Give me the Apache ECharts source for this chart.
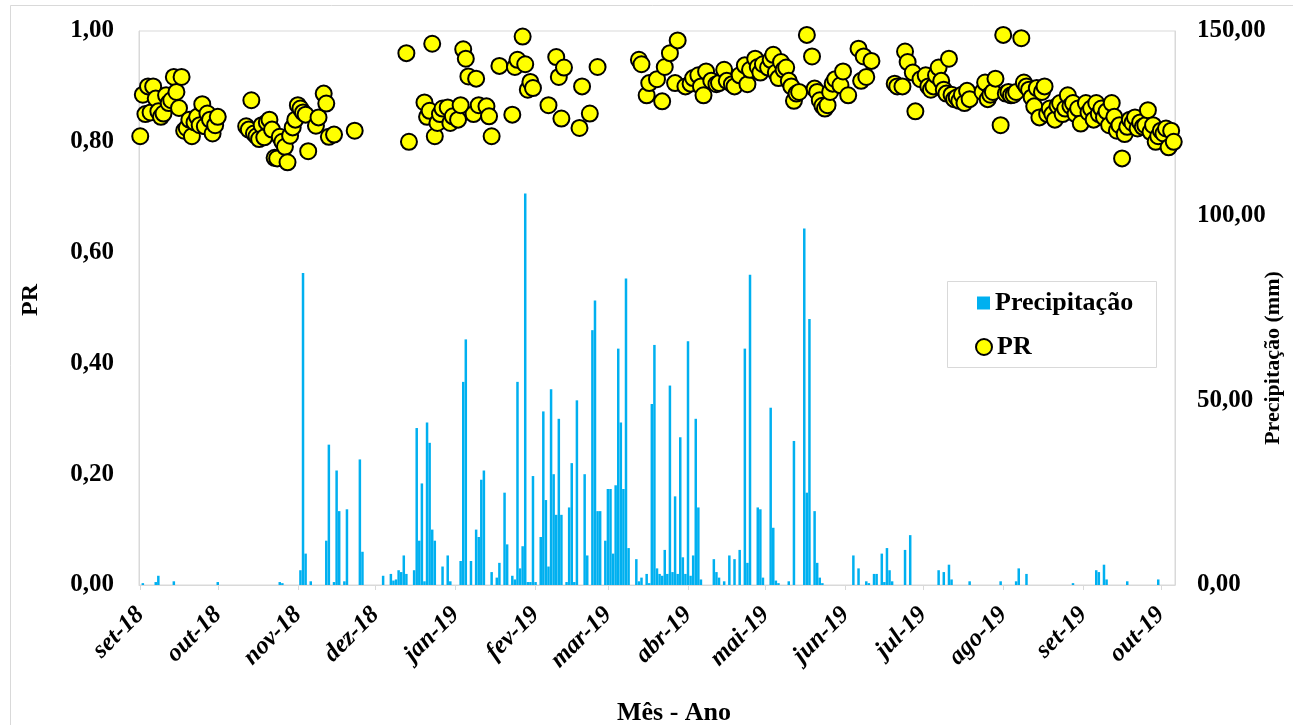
<!DOCTYPE html>
<html>
<head>
<meta charset="utf-8">
<script src="https://cdn.jsdelivr.net/npm/echarts@6/dist/echarts.min.js"></script>
<style>
html,body{margin:0;padding:0;background:#fff;}
#chart{width:1293px;height:725px;}
</style>
</head>
<body>
<div id="chart"></div>
<script>
// ---- axis labels ----
const monthNames = ['jan','fev','mar','abr','mai','jun','jul','ago','set','out','nov','dez'];

// ---- Precipitação (mm), daily, non-zero days only ----
const precipDates = [
'2018-09-02','2018-09-07','2018-09-08','2018-09-14','2018-10-01','2018-10-25','2018-10-26',
'2018-11-02','2018-11-03','2018-11-04','2018-11-06','2018-11-12','2018-11-13','2018-11-15','2018-11-16','2018-11-17','2018-11-19','2018-11-20','2018-11-25','2018-11-26',
'2018-12-04','2018-12-07','2018-12-08','2018-12-09','2018-12-10','2018-12-11','2018-12-12','2018-12-13','2018-12-16','2018-12-17','2018-12-18','2018-12-19','2018-12-20','2018-12-21','2018-12-22','2018-12-23','2018-12-24','2018-12-27','2018-12-29','2018-12-30',
'2019-01-03','2019-01-04','2019-01-05','2019-01-07','2019-01-09','2019-01-10','2019-01-11','2019-01-12','2019-01-15','2019-01-17','2019-01-18','2019-01-20','2019-01-21','2019-01-23','2019-01-24','2019-01-25','2019-01-26','2019-01-27','2019-01-28','2019-01-29','2019-01-30','2019-01-31',
'2019-02-01','2019-02-03','2019-02-04','2019-02-05','2019-02-06','2019-02-07','2019-02-08','2019-02-09','2019-02-10','2019-02-11','2019-02-13','2019-02-14','2019-02-15','2019-02-16','2019-02-17','2019-02-20','2019-02-21','2019-02-23','2019-02-24','2019-02-25','2019-02-26','2019-02-28',
'2019-03-01','2019-03-02','2019-03-03','2019-03-04','2019-03-05','2019-03-06','2019-03-07','2019-03-08','2019-03-09','2019-03-12','2019-03-13','2019-03-14','2019-03-16','2019-03-17','2019-03-18','2019-03-19','2019-03-20','2019-03-21','2019-03-22','2019-03-23','2019-03-24','2019-03-25','2019-03-26','2019-03-27','2019-03-28','2019-03-29','2019-03-30','2019-03-31',
'2019-04-01','2019-04-02','2019-04-03','2019-04-04','2019-04-05','2019-04-06','2019-04-11','2019-04-12','2019-04-13','2019-04-15','2019-04-17','2019-04-19','2019-04-21','2019-04-23','2019-04-24','2019-04-25','2019-04-28','2019-04-29','2019-04-30',
'2019-05-03','2019-05-04','2019-05-05','2019-05-06','2019-05-10','2019-05-12','2019-05-16','2019-05-17','2019-05-18','2019-05-20','2019-05-21','2019-05-22','2019-05-23',
'2019-06-04','2019-06-06','2019-06-09','2019-06-10','2019-06-12','2019-06-13','2019-06-15','2019-06-16','2019-06-17','2019-06-18','2019-06-19','2019-06-24','2019-06-26',
'2019-07-07','2019-07-09','2019-07-11','2019-07-12','2019-07-19','2019-07-31',
'2019-08-06','2019-08-07','2019-08-10','2019-08-28',
'2019-09-06','2019-09-07','2019-09-09','2019-09-10','2019-09-18','2019-09-30'
];
const precipMm = [
0.5,0.8,2.5,1.0,0.8,0.8,0.5,
4,84.5,8.5,1,12,38,0.8,31,20,1,20.5,34,9,
2.5,3,1.2,1.5,4,3.5,8,3,4,42.5,12,27.5,1,44,38.5,15,12,5,8,1,
6.5,55,66.5,6.5,15,13,28.5,31,3.5,2,6,25,11,2.5,1.5,55,4.5,10.5,106,0.8,0.8,29.5,
0.8,13,47,23,5,53,30,19,45,19,0.8,21,33,0.8,50,30,8,69,77,20,20,12,
26,26,8.5,27,64,44,26,83,10,7,1,2,3,0.5,49,65,4.5,3,2.5,9.5,3,54,3.5,24,3,40,7.5,3,
66,2.5,8,45,21,1.5,7,3.5,2,1,8,7,9.5,64,6,84,21,20.5,2,
48,15.5,1.2,0.5,1,39,96.5,25,72,20,6,2,0.5,
8,4.5,1,0.5,3,3,8.5,0.8,10,4,1,9.5,13.5,
4,3.5,5.5,1.5,1,1,
1,4.5,3,0.5,
4,3.5,5.5,1.5,1,1.5
];

// ---- PR, daily values ----
const prDates = [
'2018-09-01','2018-09-02','2018-09-03','2018-09-04','2018-09-05','2018-09-06','2018-09-07','2018-09-08','2018-09-09','2018-09-10','2018-09-11','2018-09-12','2018-09-13','2018-09-14','2018-09-15','2018-09-16','2018-09-17','2018-09-18','2018-09-19','2018-09-20','2018-09-21','2018-09-22','2018-09-23','2018-09-24','2018-09-25','2018-09-26','2018-09-27','2018-09-28','2018-09-29','2018-09-30','2018-10-01',
'2018-10-12','2018-10-13','2018-10-14','2018-10-15','2018-10-16','2018-10-17','2018-10-18','2018-10-19','2018-10-20','2018-10-21','2018-10-22','2018-10-23','2018-10-24','2018-10-25','2018-10-26','2018-10-27','2018-10-28','2018-10-29','2018-10-30','2018-10-31',
'2018-11-01','2018-11-02','2018-11-03','2018-11-04','2018-11-05','2018-11-08','2018-11-09','2018-11-11','2018-11-12','2018-11-13','2018-11-15','2018-11-23',
'2018-12-13','2018-12-14','2018-12-20','2018-12-21','2018-12-22','2018-12-23','2018-12-24','2018-12-25','2018-12-26','2018-12-27','2018-12-29','2018-12-30','2018-12-31',
'2019-01-02','2019-01-03','2019-01-04','2019-01-05','2019-01-06','2019-01-08','2019-01-09','2019-01-10','2019-01-13','2019-01-14','2019-01-15','2019-01-18','2019-01-23','2019-01-24','2019-01-25','2019-01-27','2019-01-28','2019-01-29','2019-01-30','2019-01-31',
'2019-02-06','2019-02-09','2019-02-10','2019-02-11','2019-02-12','2019-02-18','2019-02-19','2019-02-22','2019-02-25',
'2019-03-13','2019-03-14','2019-03-16','2019-03-17','2019-03-20','2019-03-22','2019-03-23','2019-03-25','2019-03-27','2019-03-28','2019-03-31',
'2019-04-02','2019-04-03','2019-04-05','2019-04-06','2019-04-07','2019-04-08','2019-04-10','2019-04-12','2019-04-13','2019-04-15','2019-04-16','2019-04-18','2019-04-19','2019-04-21','2019-04-23','2019-04-24','2019-04-25','2019-04-27','2019-04-28','2019-04-29','2019-04-30',
'2019-05-02','2019-05-03','2019-05-04','2019-05-05','2019-05-06','2019-05-07','2019-05-08','2019-05-09','2019-05-10','2019-05-11','2019-05-12','2019-05-13','2019-05-14','2019-05-17','2019-05-19','2019-05-20','2019-05-21','2019-05-22','2019-05-23','2019-05-24','2019-05-25','2019-05-26','2019-05-27','2019-05-28','2019-05-30','2019-05-31',
'2019-06-02','2019-06-06','2019-06-07','2019-06-08','2019-06-09','2019-06-11','2019-06-20','2019-06-21','2019-06-23','2019-06-24','2019-06-25','2019-06-27','2019-06-28','2019-06-30',
'2019-07-02','2019-07-03','2019-07-04','2019-07-05','2019-07-06','2019-07-07','2019-07-08','2019-07-09','2019-07-10','2019-07-11','2019-07-12','2019-07-13','2019-07-14','2019-07-15','2019-07-16','2019-07-17','2019-07-18','2019-07-19','2019-07-24','2019-07-25','2019-07-26','2019-07-27','2019-07-28','2019-07-29','2019-07-31',
'2019-08-01','2019-08-02','2019-08-03','2019-08-04','2019-08-05','2019-08-06','2019-08-08','2019-08-09','2019-08-10','2019-08-11','2019-08-12','2019-08-13','2019-08-14','2019-08-15','2019-08-16','2019-08-17','2019-08-18','2019-08-19','2019-08-20','2019-08-21','2019-08-22','2019-08-23','2019-08-24','2019-08-25','2019-08-26','2019-08-27','2019-08-28','2019-08-29','2019-08-30','2019-08-31',
'2019-09-02','2019-09-03','2019-09-04','2019-09-05','2019-09-06','2019-09-07','2019-09-08','2019-09-09','2019-09-10','2019-09-11','2019-09-12','2019-09-13','2019-09-14','2019-09-15','2019-09-16','2019-09-17','2019-09-18','2019-09-19','2019-09-20','2019-09-21','2019-09-22','2019-09-23','2019-09-24','2019-09-25','2019-09-26','2019-09-27','2019-09-28','2019-09-29','2019-09-30',
'2019-10-01','2019-10-02','2019-10-03','2019-10-04','2019-10-05','2019-10-06'
];
const prValues = [
0.81,0.885,0.85,0.90,0.853,0.90,0.878,0.855,0.845,0.851,0.884,0.87,0.875,0.917,0.89,0.861,0.917,0.82,0.825,0.84,0.81,0.835,0.845,0.83,0.868,0.828,0.851,0.84,0.815,0.83,0.845,
0.828,0.822,0.875,0.815,0.81,0.805,0.83,0.808,0.835,0.84,0.822,0.771,0.77,0.809,0.80,0.791,0.763,0.811,0.826,0.84,
0.866,0.86,0.853,0.849,0.783,0.829,0.844,0.887,0.869,0.809,0.813,0.82,
0.96,0.80,0.871,0.845,0.856,0.977,0.81,0.834,0.85,0.86,0.862,0.834,0.846,
0.84,0.866,0.967,0.95,0.918,0.85,0.914,0.866,0.864,0.846,0.81,0.937,0.849,0.935,0.948,0.99,0.94,0.894,0.908,0.897,
0.866,0.953,0.917,0.842,0.934,0.825,0.90,0.851,0.935,
0.948,0.94,0.884,0.906,0.913,0.873,0.935,0.96,0.906,0.983,0.90,
0.905,0.915,0.92,0.90,0.884,0.927,0.91,0.904,0.906,0.93,0.91,0.904,0.90,0.92,0.938,0.904,0.93,0.95,0.935,0.925,0.94,
0.934,0.948,0.957,0.925,0.915,0.944,0.93,0.934,0.91,0.90,0.874,0.887,0.89,0.993,0.954,0.896,0.89,0.875,0.865,0.86,0.866,0.89,0.905,0.913,0.902,0.927,
0.884,0.968,0.91,0.954,0.917,0.946,0.905,0.90,0.90,0.963,0.944,0.925,0.855,0.913,
0.92,0.90,0.894,0.90,0.92,0.934,0.91,0.894,0.887,0.95,0.885,0.877,0.88,0.874,0.885,0.87,0.892,0.877,0.89,0.907,0.877,0.885,0.89,0.914,0.83,
0.993,0.887,0.89,0.884,0.885,0.89,0.987,0.907,0.90,0.894,0.88,0.864,0.897,0.844,0.89,0.90,0.85,0.86,0.85,0.84,0.865,0.87,0.85,0.86,0.884,0.865,0.87,0.85,0.86,0.833,
0.87,0.853,0.86,0.84,0.87,0.85,0.86,0.844,0.855,0.83,0.87,0.845,0.82,0.83,0.77,0.814,0.827,0.84,0.834,0.844,0.824,0.835,0.827,0.83,0.857,0.818,0.83,0.80,0.81,
0.82,0.815,0.824,0.79,0.82,0.80
];

const axisMin = new Date(2018, 8, 1).getTime();
const axisMax = new Date(2019, 9, 6).getTime();

const chart = echarts.init(document.getElementById('chart'), null, {renderer: 'canvas'});
const fmt2 = v => v.toFixed(2).replace('.', ',');
const serif = 'Liberation Serif';
const tickFont = {fontFamily: serif, fontWeight: 'bold', fontSize: 25, color: '#000'};
const legendFont = {fontFamily: serif, fontWeight: 'bold', fontSize: 26, color: '#000'};
const gridLine = '#d9d9d9';

const option = {
  animation: false,
  backgroundColor: '#ffffff',
  grid: {left: 139, right: 118, top: 31, bottom: 140, show: true, borderColor: gridLine, borderWidth: 1, containLabel: false, outerBoundsMode: 'none'},
  graphic: [
    {type: 'rect', silent: true, z: -10, shape: {x: 10.5, y: 5.5, width: 1300, height: 740}, style: {fill: 'none', stroke: gridLine, lineWidth: 1}},
    {type: 'rect', silent: true, z: 1, shape: {x: 947.5, y: 281.5, width: 209, height: 86}, style: {fill: '#fff', stroke: gridLine, lineWidth: 1}}
  ],
  legend: [
    {data: [{name: 'Precipitação', icon: 'rect'}], left: 977, top: 290, padding: 0, itemWidth: 13, itemHeight: 13, z: 5,
     textStyle: legendFont},
    {data: ['PR'], left: 975, top: 334, padding: 0, itemWidth: 16, itemHeight: 16, z: 5,
     textStyle: legendFont}
  ],
  xAxis: {
    type: 'time', min: axisMin, max: axisMax, splitNumber: 14,
    minInterval: 28 * 86400000, maxInterval: 31 * 86400000,
    axisLine: {show: true, lineStyle: {color: gridLine, width: 1}},
    axisTick: {show: true, length: 5, lineStyle: {color: gridLine}},
    splitLine: {show: false},
    minorTick: {show: false},
    axisLabel: {
      rotate: 45, margin: 26, hideOverlap: false,
      fontFamily: serif, fontWeight: 'bold', fontStyle: 'italic', fontSize: 25, color: '#000',
      formatter: function (v) {
        const d = new Date(v);
        if (d.getDate() !== 1) return '';
        return monthNames[d.getMonth()] + '-' + String(d.getFullYear()).slice(2);
      }
    },
    name: 'Mês - Ano', nameLocation: 'middle', nameGap: 115, nameMoveOverlap: false,
    nameTextStyle: {fontFamily: serif, fontWeight: 'bold', fontSize: 26, color: '#000', padding: [0, 0, 0, 34]}
  },
  yAxis: [
    {
      type: 'value', position: 'left', min: 0, max: 1, interval: 0.2,
      axisLine: {show: true, lineStyle: {color: gridLine}},
      axisTick: {show: false}, splitLine: {show: false},
      axisLabel: Object.assign({margin: 25, formatter: fmt2}, tickFont),
      name: 'PR', nameLocation: 'middle', nameRotate: 90, nameGap: 96, nameMoveOverlap: false,
      nameTextStyle: {fontFamily: serif, fontWeight: 'bold', fontSize: 24, color: '#000', padding: [0, 0, 0, 16]}
    },
    {
      type: 'value', position: 'right', min: 0, max: 150, interval: 50,
      axisLine: {show: true, lineStyle: {color: gridLine}},
      axisTick: {show: false}, splitLine: {show: false},
      axisLabel: Object.assign({margin: 22, formatter: fmt2}, tickFont),
      name: 'Precipitação (mm)', nameLocation: 'middle', nameRotate: 90, nameGap: 87, nameMoveOverlap: false,
      nameTextStyle: {fontFamily: serif, fontWeight: 'bold', fontSize: 22, color: '#000', padding: [0, 100, 0, 0]}
    }
  ],
  series: [
    {
      type: 'bar', name: 'Precipitação', xAxisIndex: 0, yAxisIndex: 1,
      data: precipDates.map((d, i) => [d, precipMm[i]]),
      barWidth: 2.5, itemStyle: {color: '#00b0f0'}, z: 2
    },
    {
      type: 'scatter', name: 'PR', xAxisIndex: 0, yAxisIndex: 0,
      data: prDates.map((d, i) => [d, prValues[i]]),
      symbol: 'circle', symbolSize: 16,
      itemStyle: {color: '#ffff00', borderColor: '#000', borderWidth: 2, opacity: 1}, z: 3
    }
  ]
};
chart.setOption(option);
</script>
</body>
</html>
